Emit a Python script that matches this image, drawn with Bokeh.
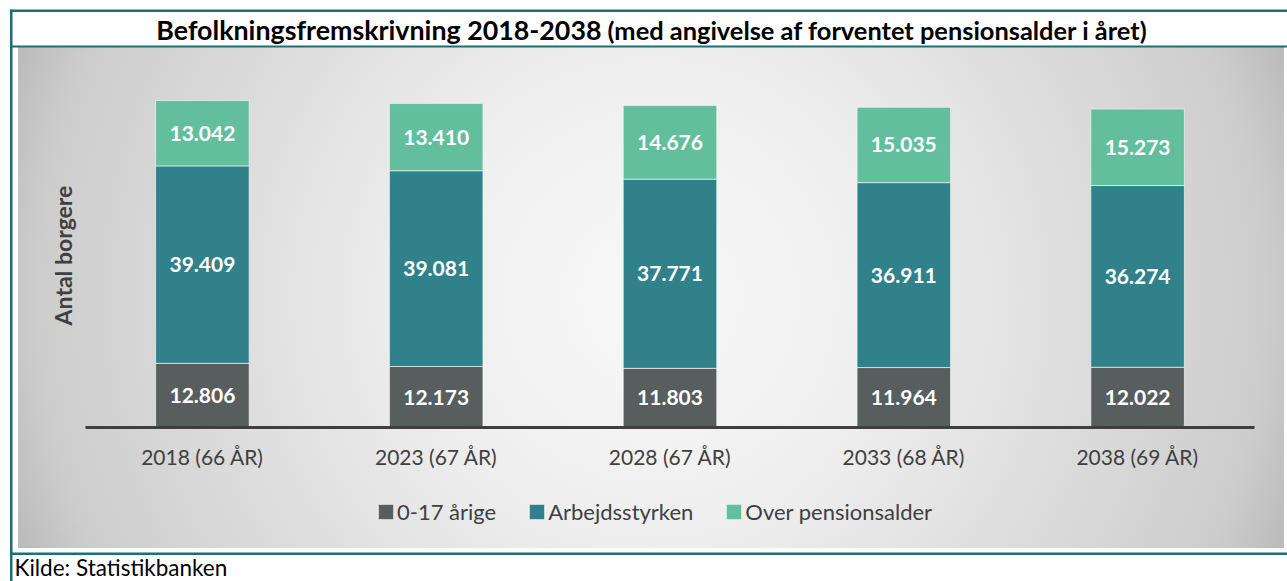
from math import pi
from bokeh.plotting import figure
from bokeh.models import (ColumnDataSource, Range1d, Label, LinearAxis,
                          FixedTicker, BoxAnnotation, Legend, LegendItem)
from bokeh.core.properties import value
from bokeh.embed import file_html
from bokeh.resources import INLINE

# ---------------- data ----------------
categories = ["2018 (66 ÅR)", "2023 (67 ÅR)", "2028 (67 ÅR)", "2033 (68 ÅR)", "2038 (69 ÅR)"]
children = [12806, 12173, 11803, 11964, 12022]
workforce = [39409, 39081, 37771, 36911, 36274]
pension = [13042, 13410, 14676, 15035, 15273]
series_names = ["0-17 årige", "Arbejdsstyrken", "Over pensionsalder"]
title_main = "Befolkningsfremskrivning 2018-2038"
title_sub = "(med angivelse af forventet pensionsalder i året)"
y_label = "Antal borgere"
source_note = "Kilde: Statistikbanken"

# ---------------- layout / style ----------------
FONT = "Lato"
colors = ["#575E5D", "#30818A", "#63BE9D"]
TEAL = "#1B6F79"
TXT = "#404040"
W, H = 1287, 581
X0, DX = 201.9, 233.8        # px of first category centre, px per category
Y0, PPU = 427.0, 5.01 / 1000  # px of zero line, px per unit

n = len(categories)
xi = list(range(n))

p = figure(width=W, height=H,
           x_range=Range1d(-X0 / DX, (W - X0) / DX),
           y_range=Range1d(-(H - Y0) / PPU, Y0 / PPU),
           output_backend="svg", toolbar_location=None, tools="",
           x_axis_location=None, y_axis_location=None,
           min_border=0, min_border_left=0, min_border_right=0,
           min_border_top=0, min_border_bottom=0)
p.outline_line_color = None
p.grid.visible = False
p.background_fill_color = None
p.border_fill_color = None
p.styles = {
    "background-color": "white",
    "background-image": "radial-gradient(circle farthest-corner at 50% 50%, #f9f9f9 0%, #eeeeee 35%, #cdcdcd 90%, #bababa 100%)",
    "background-position": "18px 47px",
    "background-size": "1266px 501px",
    "background-repeat": "no-repeat",
}

# pixel coordinate system for decorations (canvas px, top-down)
p.extra_x_ranges = {"px": Range1d(0, W)}
p.extra_y_ranges = {"px": Range1d(H, 0)}

source = ColumnDataSource(dict(x=xi, cat=categories, c=children, w=workforce, o=pension))
renderers = p.vbar_stack(["c", "w", "o"], x="x", width=0.4, color=colors,
                         line_color="#eef4f2", line_alpha=0.7, line_width=1,
                         source=source)

# value labels
lx, ly, lt = [], [], []
for i in xi:
    base = 0
    for vals in (children, workforce, pension):
        v = vals[i]
        lx.append(i)
        ly.append(base + v / 2)
        lt.append(f"{v:,}".replace(",", "."))
        base += v
p.text(x="x", y="y", text="t", source=ColumnDataSource(dict(x=lx, y=ly, t=lt)),
       text_align="center", text_baseline="middle", text_color="white",
       text_font=value(FONT), text_font_style="bold", text_font_size="21px")

ax = LinearAxis(ticker=FixedTicker(ticks=xi),
                major_label_overrides={i: c for i, c in zip(xi, categories)},
                fixed_location=0, bounds=(-0.5, n - 0.5))
ax.axis_line_width = 3
ax.axis_line_color = "#3f3f3f"
ax.major_tick_line_color = None
ax.minor_tick_line_color = None
ax.major_label_text_font = FONT
ax.major_label_text_font_size = "21px"
ax.major_label_text_color = TXT
ax.major_label_standoff = 10
p.add_layout(ax, "below")

legend = Legend(items=[LegendItem(label=s, renderers=[r]) for s, r in zip(series_names, renderers)],
                orientation="horizontal", location=(376, 56.5),
                glyph_width=19, glyph_height=19, label_standoff=2, spacing=31,
                padding=0, margin=0, border_line_color=None,
                background_fill_color=None, label_height=22,
                label_text_font=FONT, label_text_font_size="22px",
                label_text_color=TXT)
p.add_layout(legend)

# frame lines of the box
for l, r, t, b in [(9.5, 1400, 9, 11.5), (9.5, 12, 9, 700), (9.5, 1400, 45, 47), (9.5, 1400, 552, 554.5)]:
    p.add_layout(BoxAnnotation(left=l, right=r, top=t, bottom=b,
                               fill_color=TEAL, fill_alpha=1, line_color=None,
                               x_range_name="px", y_range_name="px", level="overlay"))

def lab(text, x, y, size, bold=False, color="black", align="left", baseline="middle", angle=0):
    p.add_layout(Label(x=x, y=y, x_range_name="px", y_range_name="px", text=text,
                       text_font=FONT, text_font_size=size,
                       text_font_style="bold" if bold else "normal",
                       text_color=color, text_align=align, text_baseline=baseline,
                       angle=angle))

lab(title_main, 601, 29.5, "26.8px", bold=True, align="right")
lab(title_sub, 607, 29.5, "25.4px", bold=True, align="left")
lab(y_label, 62, 255, "23px", bold=True, color=TXT, align="center", angle=pi / 2)
lab(source_note, 14, 566.5, "22.5px")

open("out.html", "w").write(file_html(p, INLINE))
